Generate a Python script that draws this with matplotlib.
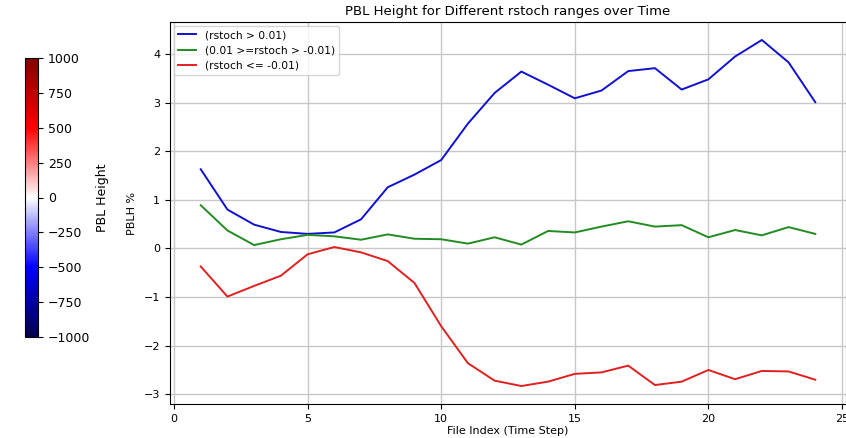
import numpy as np
import matplotlib
matplotlib.use("Agg")
import matplotlib.pyplot as plt
from matplotlib import cm, colors

file_index = list(range(1, 25))
pos_vals = [1.63, 0.80, 0.49, 0.34, 0.30, 0.33, 0.60, 1.26, 1.52, 1.82, 2.57, 3.20,
            3.64, 3.37, 3.09, 3.25, 3.65, 3.71, 3.27, 3.48, 3.95, 4.29, 3.83, 3.01]
mid_vals = [0.89, 0.37, 0.07, 0.19, 0.28, 0.25, 0.18, 0.29, 0.20, 0.19, 0.10, 0.23,
            0.08, 0.36, 0.33, 0.45, 0.56, 0.45, 0.48, 0.23, 0.38, 0.27, 0.44, 0.30]
neg_vals = [-0.37, -0.99, -0.77, -0.56, -0.12, 0.03, -0.08, -0.26, -0.71, -1.60, -2.36, -2.72,
            -2.83, -2.74, -2.58, -2.55, -2.41, -2.81, -2.74, -2.50, -2.69, -2.52, -2.53, -2.70]
labels = ["(rstoch > 0.01)", "(0.01 >=rstoch > -0.01)", "(rstoch <= -0.01)"]
cbar_ticks = [-1000, -750, -500, -250, 0, 250, 500, 750, 1000]

W, H = 846, 438
fig = plt.figure(figsize=(W / 100, H / 100), dpi=100)

ax = fig.add_axes([170 / W, (H - 404) / H, (846 - 170) / W, (404 - 22) / H])
ax.plot(file_index, pos_vals, color="#1010d0", lw=1.4, label=labels[0])
ax.plot(file_index, mid_vals, color="#228B22", lw=1.4, label=labels[1])
ax.plot(file_index, neg_vals, color="#e02020", lw=1.4, label=labels[2])
ax.set_xlim(-0.15, 25.15)
ax.set_ylim(-3.2, 4.66)
ax.set_xticks([0, 5, 10, 15, 20, 25])
ax.set_yticks([-3, -2, -1, 0, 1, 2, 3, 4])
ax.grid(True, color="#c8c8c8", lw=1.0)
ax.tick_params(labelsize=8)
ax.set_title("PBL Height for Different rstoch ranges over Time", fontsize=9.5, pad=5)
ax.set_xlabel("File Index (Time Step)", fontsize=8, labelpad=2)
ax.set_ylabel("PBLH %", fontsize=8, labelpad=5)
ax.legend(loc="upper left", fontsize=7.7, frameon=True, handlelength=1.7, borderaxespad=0.35)

cax = fig.add_axes([25 / W, (H - 337) / H, 13 / W, (337 - 58) / H])
norm = colors.Normalize(vmin=-1000, vmax=1000)
cb = fig.colorbar(cm.ScalarMappable(norm=norm, cmap="seismic"), cax=cax)
cb.set_ticks(cbar_ticks)
cb.ax.tick_params(labelsize=9)
cb.set_label("PBL Height", fontsize=9, labelpad=4)

fig.savefig("out.png", dpi=100)
